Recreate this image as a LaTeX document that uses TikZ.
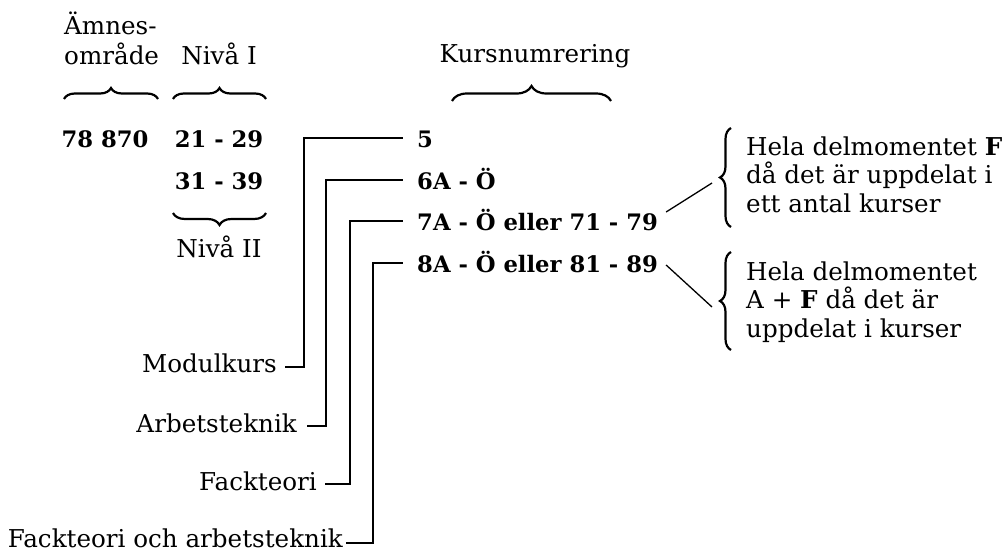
\documentclass[tikz,border=0pt]{standalone}
\usepackage{fontspec}
\setmainfont{DejaVu Serif}
\usetikzlibrary{positioning,calc,decorations.pathreplacing}

\begin{document}
\begin{tikzpicture}[x=1pt,y=-1pt,
    lbl/.style={inner sep=0pt,font=\fontsize{24.6}{28.5}\selectfont},
    num/.style={inner sep=0pt,font=\fontsize{22.7}{28}\selectfont\bfseries},
    brc/.style={decorate,decoration={brace,amplitude=#1},line width=2.2pt},
    wire/.style={line width=1.3pt}]
    \useasboundingbox (0,0) rectangle (1006,551);

    % Headings
    \node[lbl,anchor=base west] (amnes) at (64,35) {Ämnes-};
    \node[lbl,anchor=base west] (omrade) at (64,65) {område};
    \node[lbl,anchor=base] (nivaI) at (219,65) {Nivå I};
    \node[lbl,anchor=base] (kursnr) at (535,63) {Kursnumrering};
    \draw[brc=11pt] (64,99) -- (158,99);
    \draw[brc=11pt] (173,99) -- (266,99);
    \draw[brc=15pt] (452,101) -- (611,101);

    % Codes
    \node[num,anchor=base] (kod) at (105,147) {78 870};
    \node[num,anchor=base] (niva1) at (219,147) {21 - 29};
    \node[num,anchor=base] (niva2) at (219,189) {31 - 39};
    \draw[brc=12pt] (266,213) -- (173,213);
    \node[lbl,anchor=base] (nivaII) at (219,257) {Nivå II};

    % Course numbers
    \node[num,anchor=base west] (k5) at (417,147) {5};
    \node[num,anchor=base west] (k6) at (417,189) {6A - Ö};
    \node[num,anchor=base west] (k7) at (417,230) {7A - Ö eller 71 - 79};
    \node[num,anchor=base west] (k8) at (417,272) {8A - Ö eller 81 - 89};

    % Kinds of course
    \node[lbl,anchor=base east] (modul) at (277,372) {Modulkurs};
    \node[lbl,anchor=base east] (arbtek) at (297,432) {Arbetsteknik};
    \node[lbl,anchor=base east] (fackt) at (317,490) {Fackteori};
    \node[lbl,anchor=base east] (fackarb) at (343,547) {Fackteori och arbetsteknik};

    \coordinate (c5) at (304,138);
    \coordinate (c6) at (326,180);
    \coordinate (c7) at (350,221);
    \coordinate (c8) at (373,263);
    \draw[wire] ([shift={(8,-5)}]modul.base east) -| (c5) -- ([xshift=-14pt]c5 -| k5.west);
    \draw[wire] ([shift={(10,-6)}]arbtek.base east) -| (c6) -- ([xshift=-14pt]c6 -| k6.west);
    \draw[wire] ([shift={(8,-6)}]fackt.base east) -| (c7) -- ([xshift=-14pt]c7 -| k7.west);
    \draw[wire] ([shift={(3,-4)}]fackarb.base east) -| (c8) -- ([xshift=-14pt]c8 -| k8.west);

    % Explanations (base = last line)
    \node[lbl,anchor=base west,align=left] (helaF) at (746,212)
        {Hela delmomentet \textbf{F}\\då det är uppdelat i\\ett antal kurser};
    \node[lbl,anchor=base west,align=left] (helaAF) at (746,337)
        {Hela delmomentet\\A + \textbf{F} då det är\\uppdelat i kurser};
    \draw[brc=11pt] (731,227) -- (731,128);
    \draw[brc=11pt] (731,350) -- (731,252);
    \coordinate (tF) at (712,183);
    \coordinate (tAF) at (712,307);
    \draw[wire] ([shift={(8,-18)}]k7.base east) -- (tF);
    \draw[wire] ([shift={(8,-7)}]k8.base east) -- (tAF);
\end{tikzpicture}
\end{document}
